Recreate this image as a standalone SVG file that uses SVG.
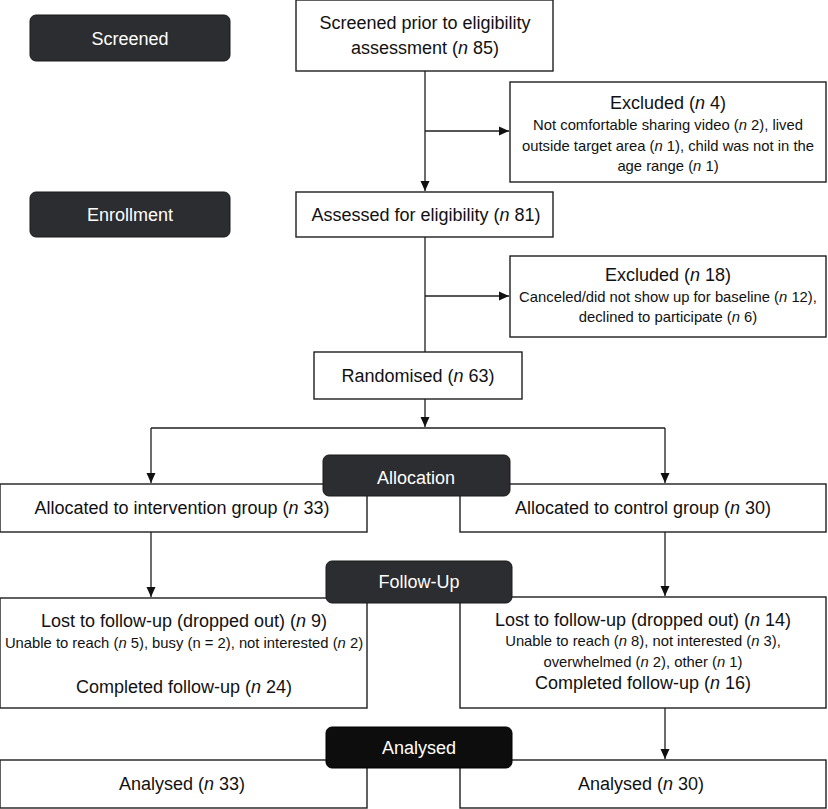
<svg xmlns="http://www.w3.org/2000/svg" width="828" height="809" viewBox="0 0 828 809">
<defs>
<marker id="ah" markerUnits="userSpaceOnUse" markerWidth="10" markerHeight="10" viewBox="0 0 10 10" refX="10" refY="5" orient="auto">
<path d="M0,0.5 L10,5 L0,9.5 Z" fill="#111"/>
</marker>
<style>
.box{fill:#fff;stroke:#1e1e1e;stroke-width:1.4}
.lab{fill:#2b2d30;stroke:#1a1a1a;stroke-width:1}
.labk{fill:#0d0d0d;stroke:#000;stroke-width:1}
.t{font-family:"Liberation Sans",Arial,sans-serif;font-size:18px;fill:#111;text-anchor:middle}
.s{font-size:14.8px}
.w{fill:#fff}
.i{font-style:italic}
.c{fill:none;stroke:#1e1e1e;stroke-width:1.3}
</style>
</defs>

<g id="connectors">
<path class="c" d="M425,71 V191" marker-end="url(#ah)"/>
<path class="c" d="M425,131 H509" marker-end="url(#ah)"/>
<path class="c" d="M425,237 V352"/>
<path class="c" d="M425,296 H509" marker-end="url(#ah)"/>
<path class="c" d="M425,399 V427" marker-end="url(#ah)"/>
<path class="c" d="M151,428 H665"/>
<path class="c" d="M151,428 V483" marker-end="url(#ah)"/>
<path class="c" d="M665,428 V483" marker-end="url(#ah)"/>
<path class="c" d="M151,532 V597" marker-end="url(#ah)"/>
<path class="c" d="M665,532 V596" marker-end="url(#ah)"/>
<path class="c" d="M665,708 V759" marker-end="url(#ah)"/>
</g>

<g id="label-screened">
<rect class="lab" x="30" y="15" width="200" height="46" rx="6"/>
<text class="t w" x="130" y="45">Screened</text>
</g>
<g id="label-enrollment">
<rect class="lab" x="30" y="192" width="200" height="45" rx="6"/>
<text class="t w" x="130" y="221">Enrollment</text>
</g>

<g id="screened">
<rect class="box" x="296" y="0" width="257" height="71"/>
<text class="t" x="425" y="29">Screened prior to eligibility</text>
<text class="t" x="425" y="54">assessment (<tspan class="i">n</tspan> 85)</text>
</g>

<g id="excluded1">
<rect class="box" x="510" y="82" width="316" height="100"/>
<text class="t" x="668" y="109">Excluded (<tspan class="i">n</tspan> 4)</text>
<text class="t s" x="668" y="130">Not comfortable sharing video (<tspan class="i">n</tspan> 2), lived</text>
<text class="t s" x="668" y="151">outside target area (<tspan class="i">n</tspan> 1), child was not in the</text>
<text class="t s" x="668" y="171">age range (<tspan class="i">n</tspan> 1)</text>
</g>

<g id="assessed">
<rect class="box" x="296" y="192" width="257" height="45"/>
<text class="t" x="426" y="221">Assessed for eligibility (<tspan class="i">n</tspan> 81)</text>
</g>

<g id="excluded2">
<rect class="box" x="510" y="256" width="316" height="81"/>
<text class="t" x="668" y="281">Excluded (<tspan class="i">n</tspan> 18)</text>
<text class="t s" x="668" y="302">Canceled/did not show up for baseline (<tspan class="i">n</tspan> 12),</text>
<text class="t s" x="668" y="322">declined to participate (<tspan class="i">n</tspan> 6)</text>
</g>

<g id="randomised">
<rect class="box" x="314" y="352" width="208" height="47"/>
<text class="t" x="418" y="382">Randomised (<tspan class="i">n</tspan> 63)</text>
</g>

<g id="alloc-int">
<rect class="box" x="0" y="484" width="367" height="48"/>
<text class="t" x="182" y="514">Allocated to intervention group (<tspan class="i">n</tspan> 33)</text>
</g>
<g id="alloc-ctl">
<rect class="box" x="460" y="484" width="366" height="48"/>
<text class="t" x="643" y="514">Allocated to control group (<tspan class="i">n</tspan> 30)</text>
</g>
<g id="label-allocation">
<rect class="lab" x="323" y="455" width="187" height="41" rx="6"/>
<text class="t w" x="416" y="484">Allocation</text>
</g>

<g id="follow-int">
<rect class="box" x="0" y="598" width="367" height="110"/>
<text class="t" x="184" y="627">Lost to follow-up (dropped out) (<tspan class="i">n</tspan> 9)</text>
<text class="t s" x="184" y="648">Unable to reach (<tspan class="i">n</tspan> 5), busy (n = 2), not interested (<tspan class="i">n</tspan> 2)</text>
<text class="t" x="184" y="693">Completed follow-up (<tspan class="i">n</tspan> 24)</text>
</g>
<g id="follow-ctl">
<rect class="box" x="460" y="597" width="366" height="111"/>
<text class="t" x="643" y="626">Lost to follow-up (dropped out) (<tspan class="i">n</tspan> 14)</text>
<text class="t s" x="643" y="646">Unable to reach (<tspan class="i">n</tspan> 8), not interested (<tspan class="i">n</tspan> 3),</text>
<text class="t s" x="643" y="667">overwhelmed (<tspan class="i">n</tspan> 2), other (<tspan class="i">n</tspan> 1)</text>
<text class="t" x="643" y="689">Completed follow-up (<tspan class="i">n</tspan> 16)</text>
</g>
<g id="label-followup">
<rect class="lab" x="326" y="561" width="186" height="42" rx="6"/>
<text class="t w" x="419" y="588">Follow-Up</text>
</g>

<g id="analysed-int">
<rect class="box" x="0" y="760" width="367" height="48"/>
<text class="t" x="182" y="790">Analysed (<tspan class="i">n</tspan> 33)</text>
</g>
<g id="analysed-ctl">
<rect class="box" x="460" y="760" width="366" height="48"/>
<text class="t" x="641" y="790">Analysed (<tspan class="i">n</tspan> 30)</text>
</g>
<g id="label-analysed">
<rect class="labk" x="326" y="727" width="186" height="41" rx="6"/>
<text class="t w" x="419" y="754">Analysed</text>
</g>
</svg>
